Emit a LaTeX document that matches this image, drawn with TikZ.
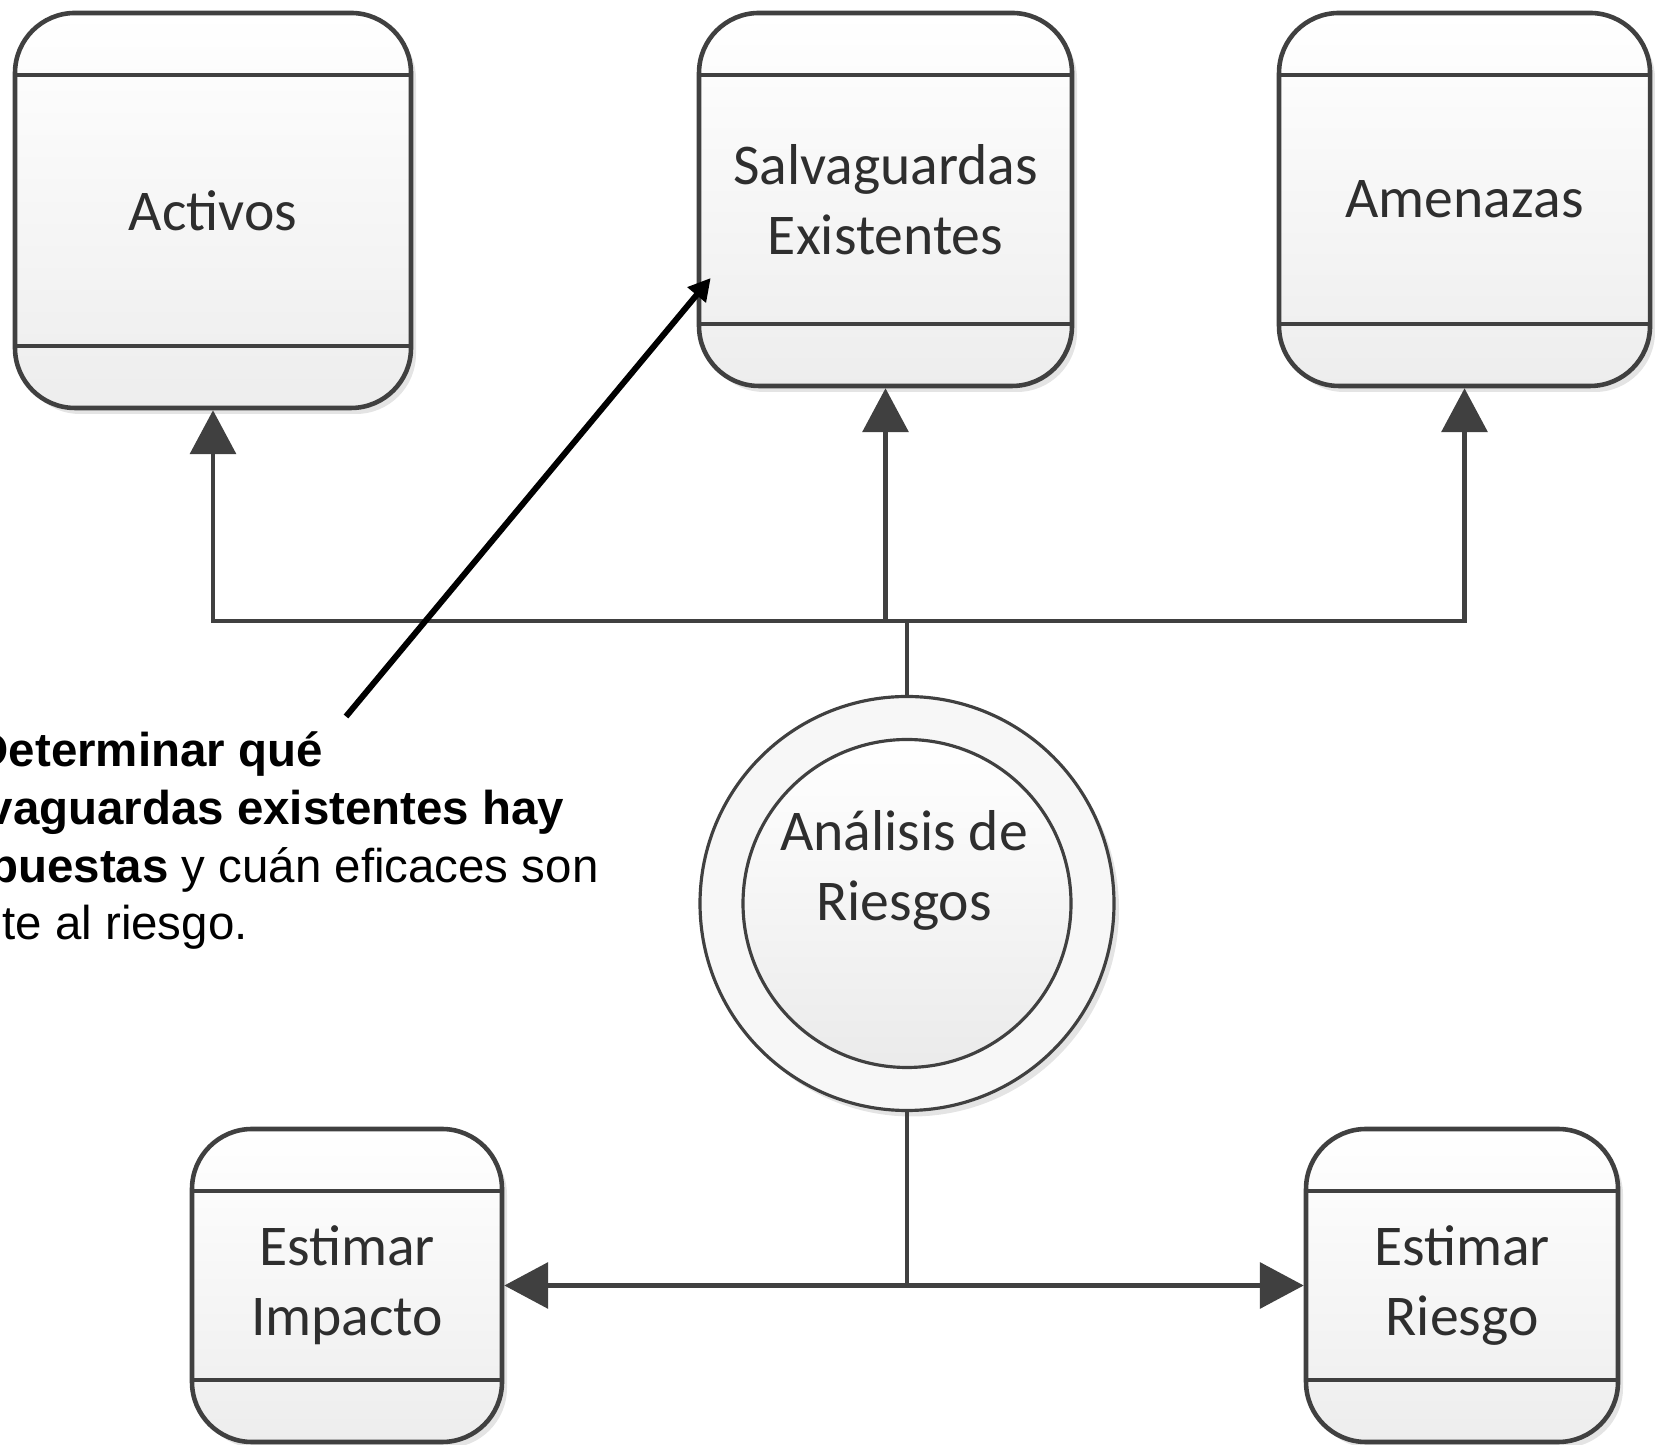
\documentclass[tikz,border=0pt]{standalone}
\usepackage{fontspec}
\usetikzlibrary{arrows.meta, positioning, shadows}
\newfontfamily\boxfont{Carlito}
\newfontfamily\notefont{Liberation Sans}
\definecolor{linegray}{HTML}{404040}
\definecolor{boxtext}{HTML}{2E2E2E}

\begin{document}
\begin{tikzpicture}[
    proc/.style={rectangle, rounded corners=0.6cm, draw=linegray, line width=1.3pt, top color=white, bottom color=black!7,
        minimum width=3.73cm, minimum height=3.73cm, align=center, text=boxtext, font=\boxfont\fontsize{16.4}{20}\selectfont,
        drop shadow={shadow xshift=0.05cm, shadow yshift=-0.06cm, fill=black!30, opacity=0.35},
        path picture={
            \draw[linegray, line width=1.3pt] ([yshift=-0.62cm]path picture bounding box.north west) -- ([yshift=-0.62cm]path picture bounding box.north east);
            \draw[linegray, line width=1.3pt] ([yshift=0.62cm]path picture bounding box.south west) -- ([yshift=0.62cm]path picture bounding box.south east);
        }},
    hub/.style={circle, draw=linegray, line width=0.9pt, inner sep=0pt},
    arrow/.style={-{Triangle[length=12.5pt, width=13pt]}, draw=linegray, line width=1.3pt},
    note/.style={anchor=north west, inner sep=0pt, align=left, font=\notefont\fontsize{13.5}{16.4}\selectfont},
    pointer/.style={-{Triangle[length=6.3pt, width=6.5pt]}, line width=1.7pt}
]
\useasboundingbox (0,0) rectangle (16.55,14.44);
\clip (0,0) rectangle (16.55,14.44);

% almacenes de arriba
\node[proc, minimum width=3.96cm, minimum height=3.95cm] (activos) at (2.13,12.335) {Activos};
\node[proc] (salv) at (8.855,12.445) {Salvaguardas\\Existentes};
\node[proc, minimum width=3.71cm] (amen) at (14.645,12.445) {Amenazas};

% proceso central
\node[hub, minimum size=4.14cm, fill=black!3, drop shadow={shadow xshift=0.05cm, shadow yshift=-0.06cm, fill=black!30, opacity=0.35}] (hub) at (9.07,5.405) {};
\node[hub, minimum size=3.28cm, top color=white, bottom color=black!8] (hubin) at (9.07,5.405) {};
\node[align=center, text=boxtext, font=\boxfont\fontsize{16.4}{20}\selectfont] (hublabel) at (9.04,5.735) {Análisis de\\Riesgos};

% resultados
\node[proc, minimum width=3.10cm, minimum height=3.13cm] (impacto) at (3.47,1.585) {Estimar\\Impacto};
\node[proc, minimum width=3.12cm, minimum height=3.13cm] (riesgo) at (14.62,1.585) {Estimar\\Riesgo};

% nota
\node[note] (note) at (-0.80,7.125) {\hspace*{0.54cm}\textbf{Determinar qué}\\
    \textbf{salvaguardas existentes hay}\\
    \textbf{dispuestas} y cuán eficaces son\\
    frente al riesgo.};

\coordinate (bus) at (9.07,8.23);

% flujos de arriba
\draw[arrow] (hub.north) -- (hub.north |- bus) -| (activos.south);
\draw[arrow] (hub.north) -- (hub.north |- bus) -| (salv.south);
\draw[arrow] (hub.north) -- (hub.north |- bus) -| (amen.south);

% flujos de abajo
\draw[arrow] (hub.south) |- (impacto.east);
\draw[arrow] (hub.south) |- (riesgo.west);

% flecha de la nota
\draw[pointer] ([xshift=4.26cm,yshift=0.15cm]note.north west) -- ([xshift=0.14cm,yshift=-0.785cm]salv.west);
\end{tikzpicture}
\end{document}
